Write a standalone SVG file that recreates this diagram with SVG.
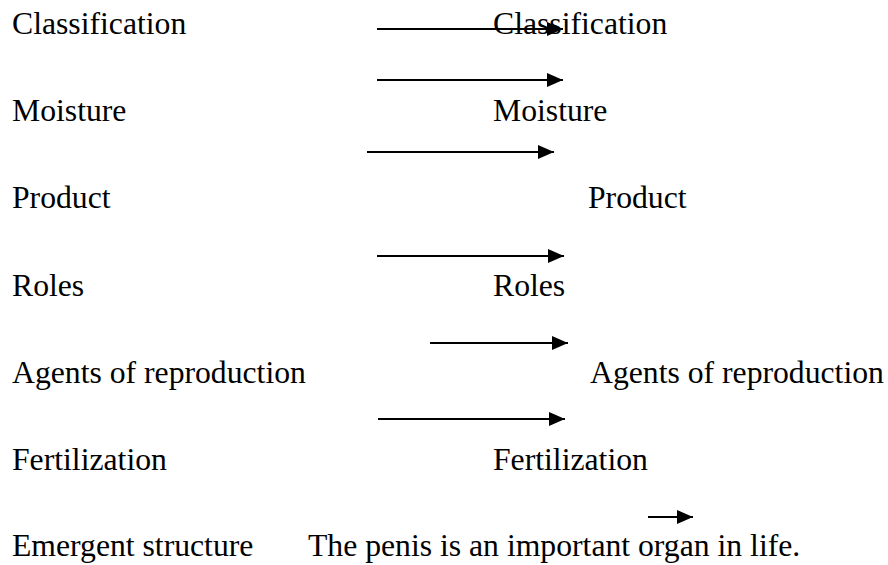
<svg xmlns="http://www.w3.org/2000/svg" width="888" height="565" viewBox="0 0 888 565">
<style>
text{font-family:"Liberation Serif","Times New Roman",serif;font-size:31.7px;fill:#000}
.c line{stroke:#000;stroke-width:2}
</style>
<defs>
<marker id="ah" viewBox="0 0 16 14" refX="16" refY="7" markerWidth="16" markerHeight="14" markerUnits="userSpaceOnUse" orient="auto">
<path d="M0,0 L16,7 L0,14 Z" fill="#000"/>
</marker>
</defs>
<rect width="888" height="565" fill="#fff"/>
<g id="l-classification"><text x="12" y="34">Classification</text></g>
<g id="l-moisture"><text x="12" y="121">Moisture</text></g>
<g id="l-product"><text x="12" y="208">Product</text></g>
<g id="l-roles"><text x="12" y="296">Roles</text></g>
<g id="l-agents"><text x="12" y="383">Agents of reproduction</text></g>
<g id="l-fertilization"><text x="12" y="470">Fertilization</text></g>
<g id="l-emergent"><text x="12" y="556">Emergent structure</text></g>
<g id="r-classification"><text x="493" y="34">Classification</text></g>
<g id="r-moisture"><text x="493" y="121">Moisture</text></g>
<g id="r-product"><text x="588" y="208">Product</text></g>
<g id="r-roles"><text x="493" y="296">Roles</text></g>
<g id="r-agents"><text x="590" y="383">Agents of reproduction</text></g>
<g id="r-fertilization"><text x="493" y="470">Fertilization</text></g>
<g id="r-emergent"><text x="308" y="556">The penis is an important organ in life.</text></g>
<g id="connectors" class="c">
<line x1="377" y1="29" x2="563" y2="29" marker-end="url(#ah)"/>
<line x1="377" y1="80" x2="563" y2="80" marker-end="url(#ah)"/>
<line x1="367" y1="152" x2="554" y2="152" marker-end="url(#ah)"/>
<line x1="377" y1="256" x2="564" y2="256" marker-end="url(#ah)"/>
<line x1="430" y1="343" x2="568" y2="343" marker-end="url(#ah)"/>
<line x1="378" y1="419" x2="565" y2="419" marker-end="url(#ah)"/>
<line x1="648" y1="517" x2="693" y2="517" marker-end="url(#ah)"/>
</g>
</svg>
